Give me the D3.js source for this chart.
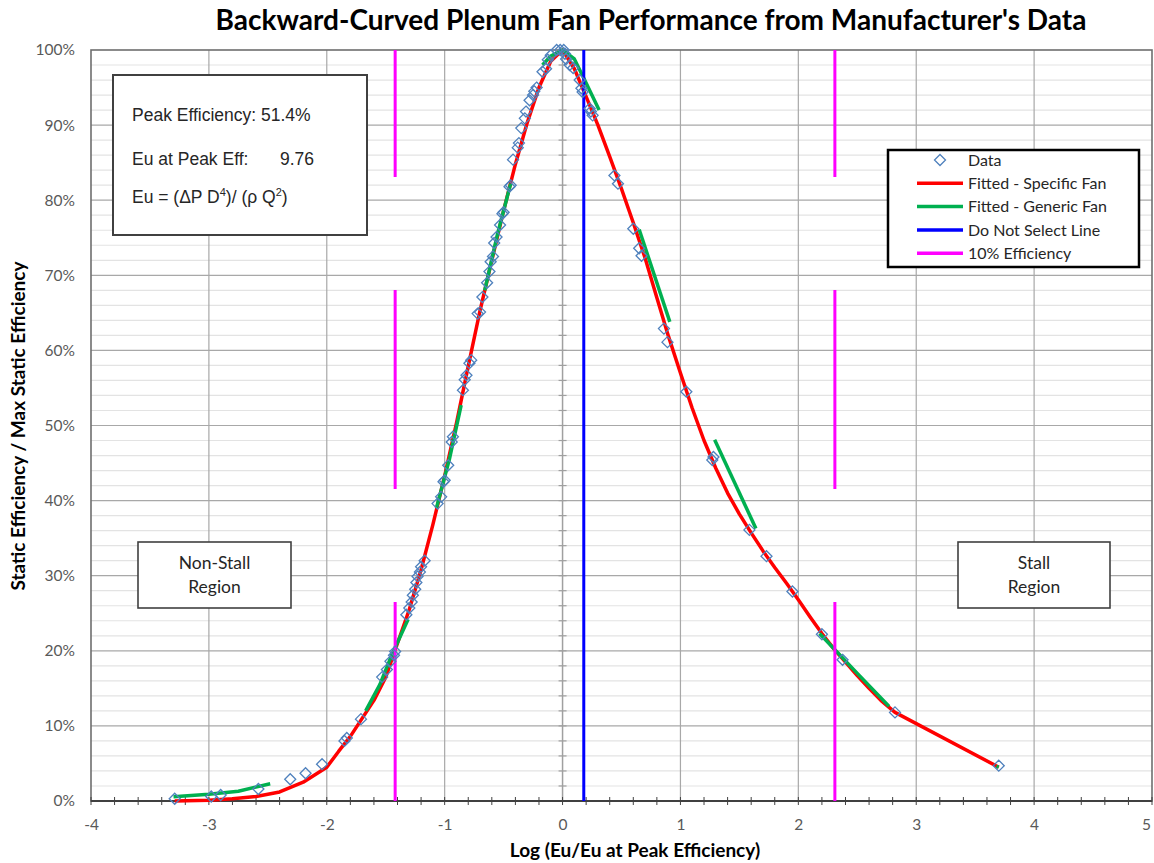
<!DOCTYPE html>
<html><head><meta charset="utf-8">
<script src="https://cdn.jsdelivr.net/npm/d3@7"></script>
<style>body{margin:0;background:#fff}svg{display:block}</style>
</head><body>
<script>
// ---------- data ----------
const dataX = [-3.29,-2.98,-2.90,-2.58,-2.31,-2.18,-2.04,-1.85,-1.83,-1.71,
 -1.53,-1.49,-1.46,-1.43,-1.42,
 -1.325,-1.30,-1.28,-1.27,-1.25,-1.24,-1.23,-1.21,-1.20,-1.17,
 -1.06,-1.03,-1.01,-1.00,-0.97,-0.94,-0.93,
 -0.845,-0.83,-0.815,-0.79,-0.775,
 -0.72,-0.70,-0.68,-0.64,-0.62,-0.61,-0.59,-0.58,-0.56,-0.53,-0.51,-0.50,-0.45,-0.44,
 -0.42,-0.38,-0.37,-0.35,-0.32,-0.31,-0.28,-0.25,-0.24,-0.22,-0.17,-0.14,-0.125,-0.10,-0.05,-0.02,
 0.01,0.02,0.03,0.06,0.09,0.145,0.16,0.17,0.23,0.24,0.255,
 0.44,0.47,0.60,0.65,0.67,0.86,0.89,1.05,1.27,1.28,1.585,1.73,1.95,2.20,2.375,2.82,3.70];
const dataY = [0.3,0.6,0.8,1.6,2.9,3.7,4.9,8.0,8.4,10.9,
 16.5,17.5,18.6,19.4,19.9,
 24.8,25.7,26.5,27.4,28.2,29.1,29.9,30.5,31.2,32.0,
 39.6,40.5,42.5,42.7,44.7,47.8,48.5,
 54.7,56.1,56.7,58.3,58.7,
 64.9,65.1,67.1,69.0,70.5,71.8,72.5,74.3,75.1,76.7,78.2,78.4,81.8,82.0,
 85.4,87.0,87.6,89.6,90.9,91.8,93.3,94.0,94.5,95.0,97.1,97.5,98.7,99.3,100,100,
 100,99.5,98.8,98.0,97.6,96.0,94.9,94.4,92.2,91.8,91.3,
 83.3,82.2,76.2,73.6,72.6,62.9,61.1,54.5,45.4,45.8,36.1,32.6,27.9,22.2,18.8,11.8,4.7];

const redX = [-3.29,-3.0,-2.8,-2.6,-2.4,-2.2,-2.0,-1.9,-1.8,-1.7,-1.6,-1.5,-1.4,-1.3,-1.2,-1.1,-1.0,-0.9,-0.8,-0.7,-0.6,-0.5,-0.4,-0.3,-0.2,-0.1,0,
 0.1,0.2,0.3,0.4,0.5,0.6,0.7,0.8,0.9,1.0,1.1,1.2,1.3,1.4,1.5,1.6,1.7,1.8,1.9,2.0,2.1,2.2,2.3,2.4,2.5,2.6,2.7,2.82,3.70];
const redY = [0,0.1,0.3,0.6,1.2,2.5,4.5,6.6,8.6,11.0,13.4,16.5,21.0,25.5,30.8,36.8,43.3,50.3,57.9,65.3,72.0,78.6,84.8,90.3,95.0,98.5,100,
 97.5,93.8,90.0,85.8,81.5,77.0,72.3,67.0,61.8,57.0,52.3,48.0,44.3,41.0,38.2,35.7,33.3,31.1,29.0,26.8,24.5,22.3,20.3,18.5,16.7,15.0,13.4,11.8,4.5];

const green1 = [[-3.30,0.55],[-3.0,0.9],[-2.75,1.3],[-2.48,2.3]];
const green2 = [[-1.67,12.0],[-1.55,15.5],[-1.45,19.4],[-1.31,24.2]];
const green3 = [[-1.07,39.0],[-0.96,45.5],[-0.86,52.7]];
const green4 = [[-0.66,68.0],[-0.55,75.6],[-0.44,82.2]];
const green5 = [[-0.17,98.0],[-0.1,99.2],[0,100],[0.1,98.8],[0.2,95.6],[0.31,92.0]];
const green6 = [[0.65,76.1],[0.91,63.8]];
const green7 = [[1.29,48.1],[1.64,36.3]];
const green8 = [[2.18,22.3],[2.50,17.0],[2.77,12.6]];
const green9 = [[3.68,4.6],[3.70,4.5]];
const greenSegments = [green1,green2,green3,green4,green5,green6,green7,green8,green9];

const blueX = 0.18;
const magentaX = [-1.42, 2.31];

const xTicks = [-4,-3,-2,-1,0,1,2,3,4,5];
const yTicks = [0,10,20,30,40,50,60,70,80,90,100];

const titleText = "Backward-Curved Plenum Fan Performance from Manufacturer's Data";
const xTitle = "Log (Eu/Eu at Peak Efficiency)";
const yTitle = "Static Efficiency / Max Static Efficiency";
const legendItems = ["Data","Fitted - Specific Fan","Fitted - Generic Fan","Do Not Select Line","10% Efficiency"];

// ---------- layout ----------
const W = 1154, H = 863;
const svg = d3.select("body").append("svg").attr("width",W).attr("height",H);
const x = d3.scaleLinear().domain([-4,5]).range([91,1152]);
const y = d3.scaleLinear().domain([0,100]).range([801,50]);
const calibri = "Lato, 'Open Sans', sans-serif";
const arial = "'Liberation Sans', Arial, sans-serif";

// minor horizontal grid
svg.append("g").selectAll("line").data(d3.range(2,100,2).filter(v=>v%10!==0)).join("line")
  .attr("x1",x(-4)).attr("x2",x(5)).attr("y1",d=>y(d)).attr("y2",d=>y(d))
  .attr("stroke","#e3e3e3").attr("stroke-width",1.2);
// major horizontal grid
svg.append("g").selectAll("line").data(yTicks.filter(v=>v>0&&v<100)).join("line")
  .attr("x1",x(-4)).attr("x2",x(5)).attr("y1",d=>y(d)).attr("y2",d=>y(d))
  .attr("stroke","#a8a8a8").attr("stroke-width",1.2);
// vertical grid
svg.append("g").selectAll("line").data(xTicks.filter(v=>v>-4&&v<5&&v!==0)).join("line")
  .attr("x1",d=>x(d)).attr("x2",d=>x(d)).attr("y1",y(0)).attr("y2",y(100))
  .attr("stroke","#a8a8a8").attr("stroke-width",1.2);
// y-axis line at x=0 with ticks
svg.append("line").attr("x1",x(0)).attr("x2",x(0)).attr("y1",y(0)).attr("y2",y(100))
  .attr("stroke","#a0a0a0").attr("stroke-width",1.5);
svg.append("g").selectAll("line").data(d3.range(0,101,2)).join("line")
  .attr("x1",x(0)-4).attr("x2",x(0)+4).attr("y1",d=>y(d)).attr("y2",d=>y(d))
  .attr("stroke","#a0a0a0").attr("stroke-width",1.2);

// plot frame
svg.append("rect").attr("x",x(-4)).attr("y",y(100)).attr("width",x(5)-x(-4)).attr("height",y(0)-y(100))
  .attr("fill","none").attr("stroke","#6e6e6e").attr("stroke-width",1.6);
// bottom axis
svg.append("line").attr("x1",x(-4)).attr("x2",x(5)).attr("y1",y(0)).attr("y2",y(0))
  .attr("stroke","#404040").attr("stroke-width",2);
svg.append("g").selectAll("line").data(d3.range(-4,5.01,0.2)).join("line")
  .attr("x1",d=>x(d)).attr("x2",d=>x(d)).attr("y1",y(0)-4).attr("y2",y(0)+4)
  .attr("stroke","#404040").attr("stroke-width",1);

// axes labels via d3 axes
const ya = svg.append("g").attr("transform",`translate(${x(-4)},0)`)
  .call(d3.axisLeft(y).tickValues(yTicks).tickFormat(d=>d+"%").tickSize(0).tickPadding(16));
ya.select(".domain").remove();
ya.selectAll("text").attr("font-family",calibri).attr("font-size",15.5).attr("fill","#595959");
const xa = svg.append("g").attr("transform",`translate(0,${y(0)})`)
  .call(d3.axisBottom(x).tickValues(xTicks).tickFormat(d=>String(d)).tickSize(0).tickPadding(18));
xa.select(".domain").remove();
xa.selectAll("text").attr("font-family",calibri).attr("font-size",15.5).attr("fill","#595959")
  .filter(d=>d===5).attr("text-anchor","end").attr("dx","-0.1em");

// ---------- series ----------
const line = d3.line().x(d=>x(d[0])).y(d=>y(d[1]));
svg.append("path").datum(redX.map((v,i)=>[v,redY[i]])).attr("d",line)
  .attr("fill","none").attr("stroke","#ff0000").attr("stroke-width",3.5).attr("stroke-linejoin","round");
svg.append("g").selectAll("path").data(greenSegments).join("path").attr("d",line)
  .attr("fill","none").attr("stroke","#00b050").attr("stroke-width",3.5).attr("stroke-linejoin","round");
svg.append("path").datum([[blueX,0],[blueX,100]]).attr("d",line)
  .attr("stroke","#0000ff").attr("stroke-width",3);
svg.append("g").selectAll("path").data(magentaX).join("path")
  .attr("d",d=>line([[d,0],[d,100]]))
  .attr("stroke","#ff00ff").attr("stroke-width",3).attr("stroke-dasharray","199 113");

const diamond = s => `M0,${-s}L${s},0L0,${s}L${-s},0Z`;
svg.append("g").selectAll("path").data(dataX.map((v,i)=>[v,dataY[i]])).join("path")
  .attr("transform",d=>`translate(${x(d[0])},${y(d[1])})`).attr("d",diamond(5.5))
  .attr("fill","none").attr("stroke","#4f81bd").attr("stroke-width",1.3);

// ---------- titles ----------
svg.append("text").attr("x",651).attr("y",30).attr("text-anchor","middle")
  .attr("font-family",calibri).attr("font-weight","bold").attr("font-size",28).attr("fill","#000").text(titleText);
svg.append("text").attr("x",635).attr("y",857).attr("text-anchor","middle")
  .attr("font-family",calibri).attr("font-weight","bold").attr("font-size",19).attr("fill","#000").text(xTitle);
svg.append("text").attr("transform","translate(25,426) rotate(-90)").attr("text-anchor","middle")
  .attr("font-family",calibri).attr("font-weight","bold").attr("font-size",19).attr("fill","#000").text(yTitle);

// ---------- info box ----------
svg.append("rect").attr("x",113).attr("y",75).attr("width",254).attr("height",160)
  .attr("fill","#fff").attr("stroke","#404040").attr("stroke-width",2);
const info = svg.append("g").attr("font-family",arial).attr("font-size",17.5).attr("fill","#262626");
info.append("text").attr("x",132).attr("y",121).text("Peak Efficiency: 51.4%");
info.append("text").attr("x",132).attr("y",165).text("Eu at Peak Eff:");
info.append("text").attr("x",280).attr("y",165).text("9.76");
const eq = info.append("text").attr("x",132).attr("y",203);
eq.append("tspan").text("Eu = (\u0394P D");
eq.append("tspan").attr("font-size",11).attr("dy",-7).text("4");
eq.append("tspan").attr("dy",7).text(")/ (\u03c1 Q");
eq.append("tspan").attr("font-size",11).attr("dy",-7).text("2");
eq.append("tspan").attr("dy",7).text(")");

// ---------- legend ----------
svg.append("rect").attr("x",888).attr("y",150).attr("width",251).attr("height",117)
  .attr("fill","#fff").attr("stroke","#000").attr("stroke-width",2.5);
const legColors = [null,"#ff0000","#00b050","#0000ff","#ff00ff"];
const lg = svg.append("g").selectAll("g").data(legendItems).join("g")
  .attr("transform",(d,i)=>`translate(0,${160+i*23.3})`);
lg.each(function(d,i){
  const g = d3.select(this);
  if(i===0){
    g.append("path").attr("transform","translate(940,0)").attr("d",diamond(5.5))
      .attr("fill","none").attr("stroke","#4f81bd").attr("stroke-width",1.3);
  } else {
    g.append("line").attr("x1",917).attr("x2",963).attr("y1",0).attr("y2",0)
      .attr("stroke",legColors[i]).attr("stroke-width",3.5);
  }
  g.append("text").attr("x",968).attr("y",0).attr("dy","0.35em")
    .attr("font-family",calibri).attr("font-size",16).attr("fill","#262626").text(d);
});

// ---------- region boxes ----------
function regionBox(x0,y0,w,h,lines){
  svg.append("rect").attr("x",x0).attr("y",y0).attr("width",w).attr("height",h)
    .attr("fill","#fff").attr("stroke","#404040").attr("stroke-width",1.6);
  lines.forEach((t,i)=>svg.append("text").attr("x",x0+w/2).attr("y",y0+21+i*24).attr("dy","0.35em")
    .attr("text-anchor","middle").attr("font-family",calibri).attr("font-size",17.5).attr("fill","#262626").text(t));
}
regionBox(138,542,153,66,["Non-Stall","Region"]);
regionBox(958,542,152,66,["Stall","Region"]);
</script>
</body></html>
